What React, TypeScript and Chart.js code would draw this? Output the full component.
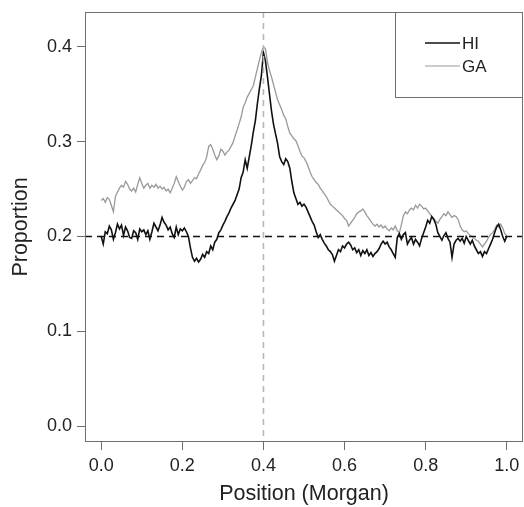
import React, { useEffect, useRef } from "react";
import { Chart, registerables } from "chart.js";

Chart.register(...registerables);

// Proportion along the chromosome, sampled every 0.005 Morgan from 0.0 to 1.0
const HI_VALUES = [
  0.200, 0.192, 0.205, 0.203, 0.211, 0.207, 0.197, 0.204, 0.213, 0.208,
  0.212, 0.201, 0.210, 0.206, 0.199, 0.198, 0.206, 0.204, 0.197, 0.208,
  0.205, 0.207, 0.202, 0.206, 0.197, 0.205, 0.214, 0.210, 0.206, 0.212,
  0.220, 0.215, 0.212, 0.207, 0.210, 0.203, 0.199, 0.210, 0.202, 0.208,
  0.206, 0.209, 0.205, 0.200, 0.188, 0.178, 0.174, 0.177, 0.173, 0.176,
  0.181, 0.178, 0.184, 0.182, 0.190, 0.186, 0.194, 0.197, 0.204, 0.207,
  0.212, 0.216, 0.221, 0.225, 0.230, 0.234, 0.238, 0.244, 0.250, 0.262,
  0.268, 0.281, 0.272, 0.284, 0.296, 0.310, 0.322, 0.340, 0.356, 0.370,
  0.394, 0.385, 0.368, 0.350, 0.332, 0.318, 0.308, 0.298, 0.284, 0.279,
  0.276, 0.282, 0.279, 0.272, 0.258, 0.246, 0.240, 0.234, 0.236, 0.232,
  0.234, 0.231, 0.226, 0.221, 0.216, 0.212, 0.205, 0.199, 0.202, 0.197,
  0.193, 0.190, 0.186, 0.184, 0.181, 0.174, 0.180, 0.186, 0.184, 0.190,
  0.188, 0.192, 0.194, 0.191, 0.186, 0.188, 0.183, 0.186, 0.180, 0.185,
  0.182, 0.186, 0.180, 0.183, 0.179, 0.182, 0.184, 0.187, 0.192, 0.195,
  0.192, 0.194, 0.189, 0.186, 0.182, 0.178, 0.199, 0.203, 0.197, 0.202,
  0.204, 0.192, 0.196, 0.199, 0.192, 0.197, 0.194, 0.190, 0.198, 0.204,
  0.210, 0.217, 0.214, 0.221, 0.218, 0.213, 0.204, 0.200, 0.196, 0.201,
  0.204, 0.198, 0.194, 0.178, 0.192, 0.196, 0.198, 0.195, 0.198, 0.193,
  0.200, 0.196, 0.192, 0.196, 0.190, 0.186, 0.182, 0.184, 0.179, 0.184,
  0.182, 0.187, 0.192, 0.197, 0.204, 0.210, 0.213, 0.207, 0.200, 0.195,
  0.200,
];

const GA_VALUES = [
  0.238, 0.240, 0.236, 0.241, 0.239, 0.233, 0.226, 0.242, 0.247, 0.251,
  0.254, 0.252, 0.258, 0.255, 0.250, 0.248, 0.251, 0.247, 0.255, 0.262,
  0.256, 0.251, 0.254, 0.256, 0.251, 0.254, 0.252, 0.255, 0.251, 0.253,
  0.250, 0.252, 0.248, 0.250, 0.246, 0.251, 0.256, 0.263, 0.258, 0.253,
  0.249, 0.252, 0.258, 0.260, 0.256, 0.259, 0.262, 0.261, 0.266, 0.270,
  0.275, 0.278, 0.284, 0.295, 0.297, 0.292, 0.286, 0.281, 0.285, 0.292,
  0.290, 0.286, 0.289, 0.291, 0.295, 0.299, 0.306, 0.312, 0.319, 0.326,
  0.336, 0.341, 0.347, 0.351, 0.355, 0.359, 0.368, 0.377, 0.386, 0.394,
  0.400, 0.398, 0.384, 0.375, 0.368, 0.360, 0.352, 0.344, 0.339, 0.334,
  0.328, 0.324, 0.316, 0.309, 0.306, 0.303, 0.301, 0.296, 0.290, 0.285,
  0.283, 0.279, 0.274, 0.268, 0.263, 0.260, 0.257, 0.255, 0.251, 0.248,
  0.245, 0.242, 0.238, 0.234, 0.232, 0.230, 0.228, 0.226, 0.224, 0.222,
  0.219, 0.217, 0.211, 0.214, 0.217, 0.220, 0.224, 0.226, 0.227, 0.229,
  0.226, 0.222, 0.219, 0.216, 0.213, 0.211, 0.213, 0.210, 0.212, 0.209,
  0.211, 0.208, 0.206, 0.209, 0.207, 0.211, 0.206, 0.204, 0.212, 0.222,
  0.226, 0.224, 0.228, 0.230, 0.228, 0.233, 0.230, 0.234, 0.232, 0.229,
  0.230, 0.227, 0.224, 0.221, 0.219, 0.216, 0.214, 0.218, 0.221, 0.224,
  0.222, 0.226, 0.223, 0.220, 0.222, 0.221, 0.218, 0.211, 0.207, 0.205,
  0.206, 0.203, 0.201, 0.200, 0.198, 0.196, 0.195, 0.192, 0.189, 0.192,
  0.195, 0.199, 0.202, 0.204, 0.207, 0.212, 0.210, 0.213, 0.209, 0.203,
  0.201,
];

const STEP = 0.005;
const X_TICKS = [0, 0.2, 0.4, 0.6, 0.8, 1.0];
const Y_TICKS = [0, 0.1, 0.2, 0.3, 0.4];
const SERIES_LABELS = ["HI", "GA"];
const SERIES_COLORS = ["#111111", "#999999"];
const PEAK_POSITION = 0.4;
const BASELINE = 0.2;
const X_TITLE = "Position (Morgan)";
const Y_TITLE = "Proportion";

const FONT = '"Liberation Sans", Arial, Helvetica, sans-serif';
const FRAME = "#6e6e6e";
const TEXT = "#222222";

export default function App() {
  const ref = useRef<HTMLCanvasElement>(null);

  useEffect(() => {
    document.body.style.margin = "0";
    const toPoints = (arr: number[]) =>
      arr.map((v, i) => ({ x: Math.round(i * STEP * 1000) / 1000, y: v }));

    const refLines = {
      id: "refLines",
      afterDatasetsDraw(chart: any) {
        const { ctx, chartArea: ca, scales } = chart;
        ctx.save();
        const xp = scales.x.getPixelForValue(PEAK_POSITION);
        ctx.strokeStyle = "#b8b8b8";
        ctx.lineWidth = 1.6;
        ctx.setLineDash([6, 5]);
        ctx.beginPath();
        ctx.moveTo(xp, ca.top);
        ctx.lineTo(xp, ca.bottom);
        ctx.stroke();
        const yp = scales.y.getPixelForValue(BASELINE);
        ctx.strokeStyle = "#111111";
        ctx.lineWidth = 1.5;
        ctx.setLineDash([7, 5]);
        ctx.beginPath();
        ctx.moveTo(ca.left, yp);
        ctx.lineTo(ca.right, yp);
        ctx.stroke();
        ctx.restore();
      },
    };

    const frame = {
      id: "frame",
      afterDraw(chart: any) {
        const { ctx, chartArea: ca } = chart;
        ctx.save();
        ctx.strokeStyle = FRAME;
        ctx.lineWidth = 1;
        ctx.strokeRect(ca.left + 0.5, ca.top + 0.5, ca.right - ca.left - 1, ca.bottom - ca.top - 1);
        // legend box
        const bx = ca.right - 128;
        ctx.strokeRect(bx + 0.5, ca.top + 0.5, 127, 85);
        ctx.font = `17px ${FONT}`;
        ctx.textBaseline = "middle";
        ctx.textAlign = "left";
        const rows = [31, 54];
        SERIES_LABELS.forEach((lab, i) => {
          ctx.strokeStyle = SERIES_COLORS[i];
          ctx.lineWidth = i === 0 ? 1.6 : 1.2;
          ctx.beginPath();
          ctx.moveTo(ca.right - 98, ca.top + rows[i]);
          ctx.lineTo(ca.right - 63, ca.top + rows[i]);
          ctx.stroke();
          ctx.fillStyle = TEXT;
          ctx.fillText(lab, ca.right - 61, ca.top + rows[i] + 1);
        });
        ctx.restore();
      },
    };

    const chart = new Chart(ref.current!, {
      type: "line",
      data: {
        datasets: [
          {
            label: SERIES_LABELS[0],
            data: toPoints(HI_VALUES),
            borderColor: SERIES_COLORS[0],
            borderWidth: 1.6,
            pointRadius: 0,
            tension: 0,
          },
          {
            label: SERIES_LABELS[1],
            data: toPoints(GA_VALUES),
            borderColor: SERIES_COLORS[1],
            borderWidth: 1.3,
            pointRadius: 0,
            tension: 0,
          },
        ],
      },
      options: {
        animation: false,
        responsive: false,
        devicePixelRatio: 1,
        layout: { padding: { top: 12, right: 1, left: 0, bottom: 0 } },
        plugins: { legend: { display: false }, tooltip: { enabled: false } },
        scales: {
          x: {
            type: "linear",
            min: -0.04,
            max: 1.04,
            afterBuildTicks: (s: any) => {
              s.ticks = X_TICKS.map((v) => ({ value: v }));
            },
            afterFit: (s: any) => {
              s.height = 65;
              s.paddingLeft = 0;
              s.paddingRight = 0;
            },
            border: { display: false },
            grid: { drawOnChartArea: false, drawTicks: true, tickLength: 8, color: FRAME },
            ticks: {
              padding: 5,
              color: TEXT,
              font: { family: FONT, size: 18 },
              maxRotation: 0,
              autoSkip: false,
              callback: (v: any) => Number(v).toFixed(1),
            },
            title: {
              display: true,
              text: X_TITLE,
              color: TEXT,
              font: { family: FONT, size: 21.5 },
              padding: { top: 0, bottom: 0 },
            },
          },
          y: {
            type: "linear",
            min: -0.0168,
            max: 0.4368,
            afterBuildTicks: (s: any) => {
              s.ticks = Y_TICKS.map((v) => ({ value: v }));
            },
            afterFit: (s: any) => {
              s.width = 85;
              s.paddingTop = 0;
              s.paddingBottom = 0;
            },
            border: { display: false },
            grid: { drawOnChartArea: false, drawTicks: true, tickLength: 8, color: FRAME },
            ticks: {
              padding: 5,
              color: TEXT,
              font: { family: FONT, size: 18 },
              autoSkip: false,
              callback: (v: any) => Number(v).toFixed(1),
            },
            title: {
              display: true,
              text: Y_TITLE,
              color: TEXT,
              font: { family: FONT, size: 21.5 },
              padding: { top: 8, bottom: 0 },
            },
          },
        },
      },
      plugins: [refLines, frame],
    });
    return () => chart.destroy();
  }, []);

  return (
    <div style={{ position: "absolute", left: 0, top: 0, width: 524, height: 507 }}>
      <canvas ref={ref} width={524} height={507} style={{ display: "block" }} />
    </div>
  );
}
